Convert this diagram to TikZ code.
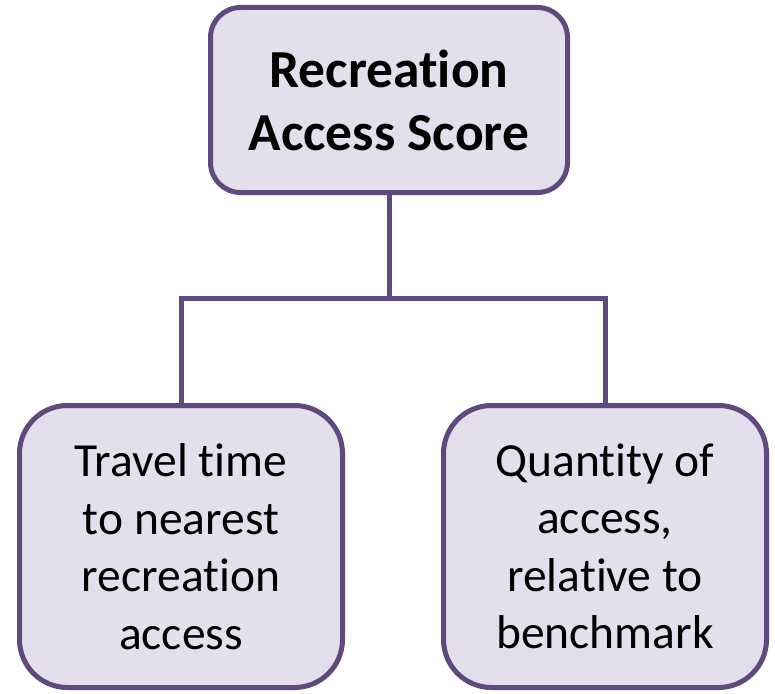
\documentclass[tikz,border=0pt]{standalone}
\usepackage{fontspec}
\setmainfont[Ligatures=NoCommon]{Carlito}
\begin{document}
\begin{tikzpicture}[x=1pt,y=-1pt,
  box/.style={draw=boxline,fill=boxfill,line width=5pt,align=center,inner sep=0pt},
  link/.style={draw=boxline,line width=5pt}]
\definecolor{boxline}{HTML}{604A7B}
\definecolor{boxfill}{HTML}{E4DFEC}
\useasboundingbox (0,0) rectangle (775,693);
\node[box,rounded corners=30pt,minimum width=357pt,minimum height=185pt,
  font=\fontsize{53.5}{63}\selectfont\bfseries] (top) at (389,100)
  {Recreation\\Access Score};
\node[box,rounded corners=48pt,minimum width=323pt,minimum height=282pt,
  font=\fontsize{47.5}{57.5}\selectfont] (left) at (181,546.5)
  {Travel time\\to nearest\\recreation\\access};
\node[box,rounded corners=48pt,minimum width=323pt,minimum height=282pt,
  font=\fontsize{47.5}{57.5}\selectfont] (right) at (605,546.5)
  {Quantity of\\access,\\relative to\\benchmark};
\coordinate (mid) at (389,298);
\draw[link] (top.south) -- (mid);
\draw[link] (left.north) |- (mid) -| (right.north);
\end{tikzpicture}
\end{document}
